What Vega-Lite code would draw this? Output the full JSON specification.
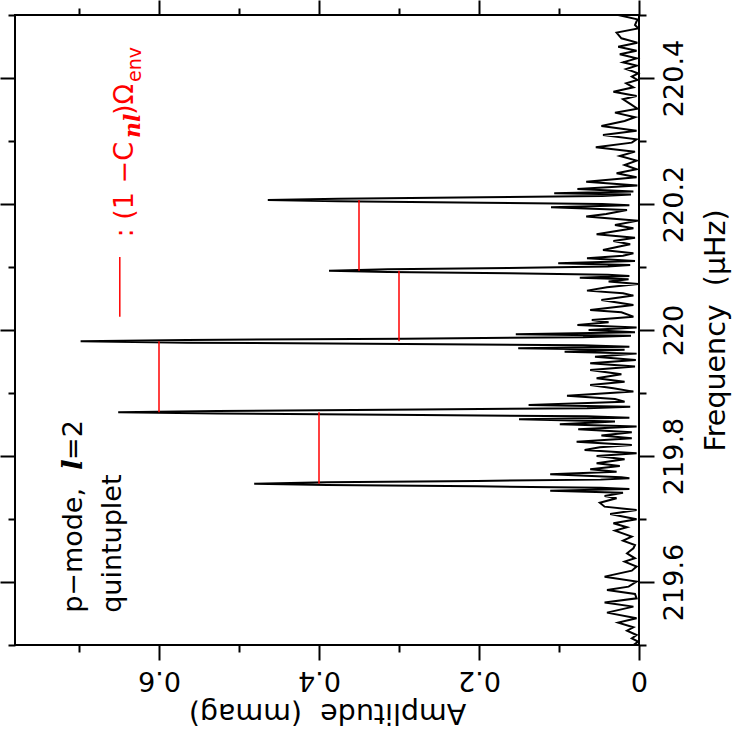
{
  "$schema": "https://vega.github.io/schema/vega-lite/v6.json",
  "width": 624,
  "height": 630,
  "autosize": {"type": "none"},
  "padding": {"left": 15, "top": 15, "right": 103, "bottom": 90},
  "background": "white",
  "config": {"view": {"stroke": "black", "strokeWidth": 2}, "font": "DejaVu Sans"},
  "datasets": {
    "spectrum": [
      {"f": 220.5000, "a": 0.026}, {"f": 220.4931, "a": 0.002}, {"f": 220.4841, "a": 0.005}, {"f": 220.4788, "a": 0.001},
      {"f": 220.4720, "a": 0.028}, {"f": 220.4630, "a": 0.022}, {"f": 220.4561, "a": 0.002}, {"f": 220.4497, "a": 0.026},
      {"f": 220.4434, "a": 0.003}, {"f": 220.4376, "a": 0.024}, {"f": 220.4312, "a": 0.003}, {"f": 220.4249, "a": 0.020},
      {"f": 220.4196, "a": 0.003}, {"f": 220.4143, "a": 0.016}, {"f": 220.4074, "a": 0.001}, {"f": 220.4021, "a": 0.009},
      {"f": 220.3968, "a": 0.002}, {"f": 220.3916, "a": 0.016}, {"f": 220.3852, "a": 0.007}, {"f": 220.3783, "a": 0.032},
      {"f": 220.3715, "a": 0.003}, {"f": 220.3662, "a": 0.020}, {"f": 220.3588, "a": 0.011}, {"f": 220.3513, "a": 0.002},
      {"f": 220.3450, "a": 0.030}, {"f": 220.3376, "a": 0.005}, {"f": 220.3318, "a": 0.018}, {"f": 220.3238, "a": 0.047},
      {"f": 220.3164, "a": 0.003}, {"f": 220.3096, "a": 0.045}, {"f": 220.3027, "a": 0.003}, {"f": 220.2974, "a": 0.009},
      {"f": 220.2900, "a": 0.054}, {"f": 220.2831, "a": 0.005}, {"f": 220.2762, "a": 0.024}, {"f": 220.2688, "a": 0.003},
      {"f": 220.2620, "a": 0.018}, {"f": 220.2551, "a": 0.003}, {"f": 220.2487, "a": 0.028}, {"f": 220.2424, "a": 0.003},
      {"f": 220.2355, "a": 0.066}, {"f": 220.2292, "a": 0.002}, {"f": 220.2239, "a": 0.077}, {"f": 220.2200, "a": 0.007},
      {"f": 220.2172, "a": 0.106}, {"f": 220.2152, "a": 0.010},
      {"f": 220.2128, "a": 0.046}, {"f": 220.2107, "a": 0.195}, {"f": 220.2085, "a": 0.376}, {"f": 220.2064, "a": 0.464},
      {"f": 220.2043, "a": 0.376}, {"f": 220.2021, "a": 0.195}, {"f": 220.2000, "a": 0.046}, {"f": 220.1979, "a": 0.012},
      {"f": 220.1950, "a": 0.110}, {"f": 220.1905, "a": 0.015}, {"f": 220.1842, "a": 0.041}, {"f": 220.1800, "a": 0.066},
      {"f": 220.1736, "a": 0.001}, {"f": 220.1667, "a": 0.030}, {"f": 220.1614, "a": 0.007}, {"f": 220.1519, "a": 0.053},
      {"f": 220.1466, "a": 0.005}, {"f": 220.1413, "a": 0.032}, {"f": 220.1360, "a": 0.011}, {"f": 220.1323, "a": 0.026},
      {"f": 220.1270, "a": 0.045}, {"f": 220.1217, "a": 0.007}, {"f": 220.1180, "a": 0.020}, {"f": 220.1138, "a": 0.065},
      {"f": 220.1096, "a": 0.005}, {"f": 220.1060, "a": 0.101}, {"f": 220.1030, "a": 0.011},
      {"f": 220.1006, "a": 0.039}, {"f": 220.0985, "a": 0.163}, {"f": 220.0963, "a": 0.314}, {"f": 220.0942, "a": 0.3875},
      {"f": 220.0921, "a": 0.314}, {"f": 220.0899, "a": 0.163}, {"f": 220.0878, "a": 0.039}, {"f": 220.0857, "a": 0.012},
      {"f": 220.0830, "a": 0.074}, {"f": 220.0805, "a": 0.013}, {"f": 220.0768, "a": 0.038}, {"f": 220.0731, "a": 0.001},
      {"f": 220.0678, "a": 0.040}, {"f": 220.0625, "a": 0.065}, {"f": 220.0583, "a": 0.020}, {"f": 220.0546, "a": 0.007},
      {"f": 220.0477, "a": 0.047}, {"f": 220.0397, "a": 0.007}, {"f": 220.0318, "a": 0.061}, {"f": 220.0281, "a": 0.022},
      {"f": 220.0212, "a": 0.007}, {"f": 220.0159, "a": 0.059}, {"f": 220.0122, "a": 0.038}, {"f": 220.0080, "a": 0.077},
      {"f": 220.0038, "a": 0.003}, {"f": 220.0001, "a": 0.063}, {"f": 219.9964, "a": 0.005}, {"f": 219.9932, "a": 0.154},
      {"f": 219.9908, "a": 0.010},
      {"f": 219.9884, "a": 0.070}, {"f": 219.9863, "a": 0.293}, {"f": 219.9841, "a": 0.565}, {"f": 219.9820, "a": 0.698},
      {"f": 219.9799, "a": 0.565}, {"f": 219.9777, "a": 0.293}, {"f": 219.9756, "a": 0.070}, {"f": 219.9735, "a": 0.012},
      {"f": 219.9710, "a": 0.151}, {"f": 219.9685, "a": 0.018}, {"f": 219.9655, "a": 0.093}, {"f": 219.9625, "a": 0.003},
      {"f": 219.9577, "a": 0.055}, {"f": 219.9524, "a": 0.004}, {"f": 219.9471, "a": 0.061}, {"f": 219.9419, "a": 0.005},
      {"f": 219.9366, "a": 0.061}, {"f": 219.9297, "a": 0.022}, {"f": 219.9234, "a": 0.053}, {"f": 219.9180, "a": 0.018},
      {"f": 219.9128, "a": 0.061}, {"f": 219.9075, "a": 0.032}, {"f": 219.9022, "a": 0.007}, {"f": 219.8958, "a": 0.090},
      {"f": 219.8905, "a": 0.030}, {"f": 219.8863, "a": 0.018}, {"f": 219.8810, "a": 0.138}, {"f": 219.8782, "a": 0.011},
      {"f": 219.8758, "a": 0.065}, {"f": 219.8737, "a": 0.273}, {"f": 219.8715, "a": 0.527}, {"f": 219.8694, "a": 0.651},
      {"f": 219.8673, "a": 0.527}, {"f": 219.8651, "a": 0.273}, {"f": 219.8630, "a": 0.065}, {"f": 219.8609, "a": 0.012},
      {"f": 219.8583, "a": 0.150}, {"f": 219.8546, "a": 0.030}, {"f": 219.8504, "a": 0.099}, {"f": 219.8467, "a": 0.003},
      {"f": 219.8424, "a": 0.076}, {"f": 219.8377, "a": 0.009}, {"f": 219.8324, "a": 0.047}, {"f": 219.8281, "a": 0.009},
      {"f": 219.8228, "a": 0.078}, {"f": 219.8175, "a": 0.009}, {"f": 219.8138, "a": 0.049}, {"f": 219.8095, "a": 0.068},
      {"f": 219.8042, "a": 0.003}, {"f": 219.8000, "a": 0.053}, {"f": 219.7947, "a": 0.018}, {"f": 219.7884, "a": 0.053},
      {"f": 219.7841, "a": 0.024}, {"f": 219.7789, "a": 0.061}, {"f": 219.7751, "a": 0.028}, {"f": 219.7709, "a": 0.111},
      {"f": 219.7662, "a": 0.022}, {"f": 219.7646, "a": 0.012},
      {"f": 219.7625, "a": 0.048}, {"f": 219.7604, "a": 0.202}, {"f": 219.7582, "a": 0.390}, {"f": 219.7561, "a": 0.481},
      {"f": 219.7540, "a": 0.390}, {"f": 219.7518, "a": 0.202}, {"f": 219.7497, "a": 0.048}, {"f": 219.7476, "a": 0.012},
      {"f": 219.7450, "a": 0.111}, {"f": 219.7418, "a": 0.020}, {"f": 219.7365, "a": 0.043}, {"f": 219.7328, "a": 0.028},
      {"f": 219.7259, "a": 0.049}, {"f": 219.7196, "a": 0.043}, {"f": 219.7143, "a": 0.003}, {"f": 219.7080, "a": 0.036},
      {"f": 219.6995, "a": 0.003}, {"f": 219.6932, "a": 0.032}, {"f": 219.6868, "a": 0.015}, {"f": 219.6815, "a": 0.030},
      {"f": 219.6720, "a": 0.009}, {"f": 219.6656, "a": 0.020}, {"f": 219.6588, "a": 0.005}, {"f": 219.6535, "a": 0.007},
      {"f": 219.6455, "a": 0.015}, {"f": 219.6376, "a": 0.005}, {"f": 219.6323, "a": 0.018}, {"f": 219.6244, "a": 0.003},
      {"f": 219.6180, "a": 0.009}, {"f": 219.6085, "a": 0.043}, {"f": 219.6006, "a": 0.003}, {"f": 219.5926, "a": 0.013},
      {"f": 219.5873, "a": 0.040}, {"f": 219.5810, "a": 0.005}, {"f": 219.5741, "a": 0.003}, {"f": 219.5673, "a": 0.043},
      {"f": 219.5609, "a": 0.007}, {"f": 219.5514, "a": 0.040}, {"f": 219.5424, "a": 0.003}, {"f": 219.5355, "a": 0.026},
      {"f": 219.5281, "a": 0.007}, {"f": 219.5228, "a": 0.015}, {"f": 219.5159, "a": 0.003}, {"f": 219.5106, "a": 0.009},
      {"f": 219.5053, "a": 0.001}, {"f": 219.5000, "a": 0.007}
    ],
    "splits": [
      {"a": 0.40, "f1": 219.7561, "f2": 219.8694},
      {"a": 0.60, "f1": 219.8694, "f2": 219.9820},
      {"a": 0.30, "f1": 219.9820, "f2": 220.0942},
      {"a": 0.35, "f1": 220.0942, "f2": 220.2064}
    ],
    "one": [{}]
  },
  "layer": [
    {
      "data": {"name": "spectrum"},
      "mark": {"type": "line", "color": "black", "strokeWidth": 2},
      "encoding": {
        "x": {
          "field": "a", "type": "quantitative",
          "scale": {"domain": [0, 0.78], "reverse": true, "nice": false, "zero": false},
          "axis": {
            "orient": "bottom",
            "values": [0, 0.1, 0.2, 0.3, 0.4, 0.5, 0.6, 0.7],
            "labelExpr": "round(datum.value*10)%2==0 ? '' + round(datum.value*10)/10 : ''",
            "tickSize": {"condition": {"test": "round(datum.value*10)%2==0", "value": 15}, "value": 7},
            "tickWidth": 2, "tickColor": "black", "domain": false, "grid": false,
            "labelAngle": 180, "labelAlign": "center", "labelBaseline": "bottom",
            "labelFont": "DejaVu Sans", "labelFontSize": 27, "labelColor": "black",
            "labelPadding": 5, "labelFlush": false, "labelOverlap": false, "labelBound": false,
            "title": "Amplitude\u00a0\u00a0(mmag)", "titleAngle": 180, "titleBaseline": "bottom",
            "titleFont": "DejaVu Sans", "titleFontSize": 28.5, "titleFontWeight": "normal",
            "titleColor": "black", "titlePadding": 4
          }
        },
        "y": {
          "field": "f", "type": "quantitative",
          "scale": {"domain": [219.5, 220.5], "nice": false, "zero": false},
          "axis": {
            "orient": "right",
            "values": [219.5, 219.6, 219.7, 219.8, 219.9, 220.0, 220.1, 220.2, 220.3, 220.4, 220.5],
            "labelExpr": "round(datum.value*10)%2==0 ? '' + round(datum.value*10)/10 : ''",
            "tickSize": {"condition": {"test": "round(datum.value*10)%2==0", "value": 15}, "value": 7},
            "tickWidth": 2, "tickColor": "black", "domain": false, "grid": false,
            "labelAngle": 270, "labelAlign": "center", "labelBaseline": "top",
            "labelFont": "DejaVu Sans", "labelFontSize": 27, "labelColor": "black",
            "labelPadding": 7, "labelFlush": false, "labelOverlap": false, "labelBound": false,
            "title": "Frequency\u00a0\u00a0(\u03bcHz)", "titleAngle": 270, "titleBaseline": "top",
            "titleFont": "DejaVu Sans", "titleFontSize": 28.5, "titleFontWeight": "normal",
            "titleColor": "black", "titlePadding": 14
          }
        },
        "order": {"field": "f", "type": "quantitative"}
      }
    },
    {
      "data": {"name": "splits"},
      "mark": {"type": "rule", "color": "#ff0000", "strokeWidth": 1.5},
      "encoding": {
        "x": {
          "field": "a", "type": "quantitative",
          "axis": {
            "orient": "top",
            "values": [0, 0.1, 0.2, 0.3, 0.4, 0.5, 0.6, 0.7],
            "labels": false, "title": null, "domain": false, "grid": false,
            "tickSize": {"condition": {"test": "round(datum.value*10)%2==0", "value": 15}, "value": 7},
            "tickWidth": 2, "tickColor": "black"
          }
        },
        "y": {
          "field": "f1", "type": "quantitative",
          "axis": {
            "orient": "left",
            "values": [219.5, 219.6, 219.7, 219.8, 219.9, 220.0, 220.1, 220.2, 220.3, 220.4, 220.5],
            "labels": false, "title": null, "domain": false, "grid": false,
            "tickSize": {"condition": {"test": "round(datum.value*10)%2==0", "value": 15}, "value": 7},
            "tickWidth": 2, "tickColor": "black"
          }
        },
        "y2": {"field": "f2"}
      }
    },
    {
      "data": {"name": "one"},
      "mark": {"type": "rule", "color": "#ff0000", "strokeWidth": 1.5},
      "encoding": {
        "x": {"datum": 0.649, "type": "quantitative", "axis": null},
        "y": {"datum": 220.021, "type": "quantitative", "axis": null},
        "y2": {"datum": 220.116}
      }
    },
    {
      "data": {"name": "one"},
      "mark": {"type": "text", "text": ": (1 \u2212C", "angle": 270, "align": "left", "baseline": "alphabetic", "font": "DejaVu Sans", "fontSize": 27, "color": "#ff0000"},
      "encoding": {
        "x": {"datum": 0.6325, "type": "quantitative", "axis": null},
        "y": {"datum": 220.1470, "type": "quantitative", "axis": null}
      }
    },
    {
      "data": {"name": "one"},
      "mark": {"type": "text", "text": "nl", "angle": 270, "align": "left", "baseline": "alphabetic", "font": "DejaVu Serif", "fontStyle": "italic", "fontWeight": "bold", "fontSize": 22, "color": "#ff0000"},
      "encoding": {
        "x": {"datum": 0.624, "type": "quantitative", "axis": null},
        "y": {"datum": 220.3048, "type": "quantitative", "axis": null}
      }
    },
    {
      "data": {"name": "one"},
      "mark": {"type": "text", "text": ")\u03a9", "angle": 270, "align": "left", "baseline": "alphabetic", "font": "DejaVu Sans", "fontSize": 27, "color": "#ff0000"},
      "encoding": {
        "x": {"datum": 0.6325, "type": "quantitative", "axis": null},
        "y": {"datum": 220.3413, "type": "quantitative", "axis": null}
      }
    },
    {
      "data": {"name": "one"},
      "mark": {"type": "text", "text": "env", "angle": 270, "align": "left", "baseline": "alphabetic", "font": "DejaVu Sans", "fontSize": 19, "color": "#ff0000"},
      "encoding": {
        "x": {"datum": 0.6225, "type": "quantitative", "axis": null},
        "y": {"datum": 220.3937, "type": "quantitative", "axis": null}
      }
    },
    {
      "data": {"name": "one"},
      "mark": {"type": "text", "text": "p\u2212mode,", "angle": 270, "align": "left", "baseline": "alphabetic", "font": "DejaVu Sans", "fontSize": 27, "color": "black"},
      "encoding": {
        "x": {"datum": 0.696, "type": "quantitative", "axis": null},
        "y": {"datum": 219.551, "type": "quantitative", "axis": null}
      }
    },
    {
      "data": {"name": "one"},
      "mark": {"type": "text", "text": "l", "angle": 270, "align": "left", "baseline": "alphabetic", "font": "DejaVu Serif", "fontStyle": "italic", "fontWeight": "bold", "fontSize": 28, "color": "black"},
      "encoding": {
        "x": {"datum": 0.696, "type": "quantitative", "axis": null},
        "y": {"datum": 219.7778, "type": "quantitative", "axis": null}
      }
    },
    {
      "data": {"name": "one"},
      "mark": {"type": "text", "text": "=2", "angle": 270, "align": "left", "baseline": "alphabetic", "font": "DejaVu Sans", "fontSize": 27, "color": "black"},
      "encoding": {
        "x": {"datum": 0.696, "type": "quantitative", "axis": null},
        "y": {"datum": 219.7937, "type": "quantitative", "axis": null}
      }
    },
    {
      "data": {"name": "one"},
      "mark": {"type": "text", "text": "quintuplet", "angle": 270, "align": "left", "baseline": "alphabetic", "font": "DejaVu Sans", "fontSize": 27, "color": "black"},
      "encoding": {
        "x": {"datum": 0.647, "type": "quantitative", "axis": null},
        "y": {"datum": 219.551, "type": "quantitative", "axis": null}
      }
    }
  ],
  "resolve": {"axis": {"x": "independent", "y": "independent"}}
}
